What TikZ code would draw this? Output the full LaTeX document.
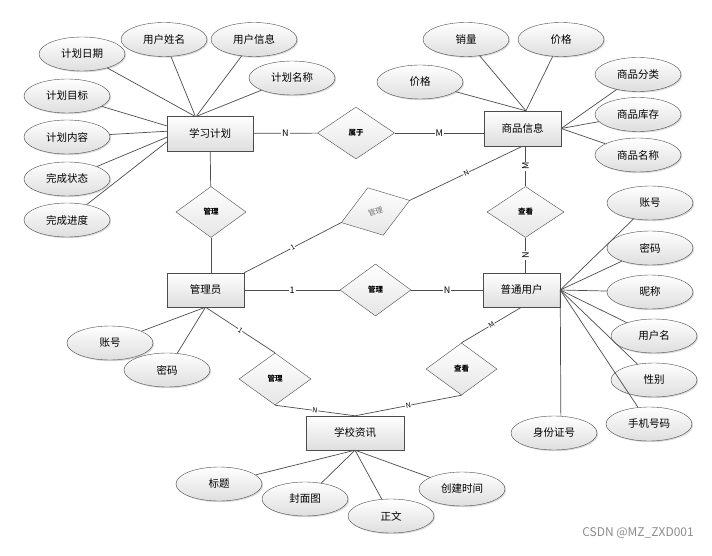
\documentclass[tikz,border=0pt]{standalone}
\usepackage{fontspec}
\setmainfont{Noto Sans CJK SC}
\usetikzlibrary{shapes.geometric,shadows}

\begin{document}
\begin{tikzpicture}[x=1pt,y=-1pt,
  every node/.style={font=\fontsize{10.5}{12}\selectfont},
  ent/.style={draw=black!70, rectangle, top color=white, bottom color=black!13, minimum width=77pt, minimum height=34pt, drop shadow={shadow xshift=1.2pt, shadow yshift=-1.2pt, opacity=.3}},
  attr/.style={draw=black!70, ellipse, top color=white, bottom color=black!13, minimum width=86pt, minimum height=34pt, drop shadow={shadow xshift=1.2pt, shadow yshift=-1.2pt, opacity=.3}},
  rel/.style={draw=black!70, diamond, top color=white, bottom color=black!10, minimum width=72pt, minimum height=52pt, inner sep=0pt, font=\fontsize{7.5}{8}\selectfont\bfseries},
  link/.style={draw=black!70, line width=0.7pt},
  lab/.style={fill=white, inner sep=1pt, font=\fontsize{9}{10}\selectfont},
  slab/.style={fill=white, inner sep=0.5pt, sloped, font=\fontsize{7}{8}\selectfont}]
\useasboundingbox (0,0) rectangle (712,556);

\node[ent, minimum width=86pt, minimum height=35pt] (E1) at (210,133.5) {学习计划};
\node[ent, minimum height=35pt] (E2) at (522.5,128.5) {商品信息};
\node[ent] (E3) at (205.5,290) {管理员};
\node[ent] (E4) at (521.5,290) {普通用户};
\node[ent, minimum width=98pt] (E5) at (355,433) {学校资讯};

\node[rel, minimum width=77pt] (R1) at (356,133) {属于};
\node[rel, minimum width=70pt, minimum height=51pt] (R2) at (211,212) {管理};
\node[rel, minimum height=50pt, rotate=18, text=black!55, font=\fontsize{7.5}{8}\selectfont] (R3) at (375.5,211.5) {管理};
\node[rel, minimum width=77pt, minimum height=51pt] (R4) at (525.5,212) {查看};
\node[rel, minimum width=71pt] (R5) at (375.5,290) {管理};
\node[rel] (R6) at (275,379) {管理};
\node[rel, minimum width=71pt] (R7) at (461.5,369) {查看};

\node[attr] (E1A1) at (82,54) {计划日期};
\node[attr] (E1A2) at (164,39.5) {用户姓名};
\node[attr] (E1A3) at (254,39.5) {用户信息};
\node[attr] (E1A4) at (292,78) {计划名称};
\node[attr] (E1A5) at (67,96) {计划目标};
\node[attr] (E1A6) at (67,137) {计划内容};
\node[attr] (E1A7) at (67,179) {完成状态};
\node[attr] (E1A8) at (67,220) {完成进度};

\node[attr] (E2A1) at (466,39.5) {销量};
\node[attr] (E2A2) at (561,39.5) {价格};
\node[attr] (E2A3) at (420,82) {价格};
\node[attr] (E2A4) at (638,74.5) {商品分类};
\node[attr] (E2A5) at (638,114.5) {商品库存};
\node[attr] (E2A6) at (638,155) {商品名称};

\node[attr] (E3A1) at (110,343) {账号};
\node[attr] (E3A2) at (167,370) {密码};

\node[attr] (E4A1) at (650,203) {账号};
\node[attr] (E4A2) at (650,248) {密码};
\node[attr] (E4A3) at (650,292) {昵称};
\node[attr] (E4A4) at (654,336) {用户名};
\node[attr] (E4A5) at (654,380) {性别};
\node[attr] (E4A6) at (649,424) {手机号码};
\node[attr] (E4A7) at (554,433) {身份证号};

\node[attr] (E5A1) at (219,484) {标题};
\node[attr] (E5A2) at (305,499) {封面图};
\node[attr] (E5A3) at (391,516) {正文};
\node[attr] (E5A4) at (462,489) {创建时间};

\draw[link] (E1A1) -- (E1.132);
\draw[link] (E1A2) -- (E1.130);
\draw[link] (E1A3) -- (E1.127);
\draw[link] (E1A4) -- (E1.125);
\draw[link] (E1A5) -- (E1.170);
\draw[link] (E1A6) -- (E1.177);
\draw[link] (E1A7) -- (E1.185);
\draw[link] (E1A8) -- (E1.191);

\draw[link] (E2A1) -- (E2.79);
\draw[link] (E2A2) -- (E2.79);
\draw[link] (E2A3) -- (E2.79);
\draw[link] (E2A4) -- (E2.east);
\draw[link] (E2A5) -- (E2.east);
\draw[link] (E2A6) -- (E2.east);

\draw[link] (E3A1) -- (E3.south);
\draw[link] (E3A2) -- (E3.south);

\draw[link] (E4A1) -- (E4.east);
\draw[link] (E4A2) -- (E4.east);
\draw[link] (E4A3) -- (E4.east);
\draw[link] (E4A4) -- (E4.east);
\draw[link] (E4A5) -- (E4.east);
\draw[link] (E4A6) -- (E4.east);
\draw[link] (E4A7.68) -- (E4.east);

\draw[link] (E5A1) -- (E5.south);
\draw[link] (E5A2) -- (E5.south);
\draw[link] (E5A3) -- (E5.south);
\draw[link] (E5A4) -- (E5.south);

\draw[link] (E1) -- node[lab] {N} (R1);
\draw[link] (R1.east) -- node[lab] {M} (R1.east -| E2.west);
\draw[link] (E1) -- (R2);
\draw[link] (R2.south) -- (R2.south |- E3.north);
\draw[link] (E3.north east) -- node[slab] {1} (R3.west);
\draw[link] (R3.east) -- node[slab] {N} (E2.south);
\draw[link] (R4.north |- E2.south) -- node[lab, rotate=90] {M} (R4.north);
\draw[link] (R4.south) -- node[lab, rotate=90] {N} (R4.south |- E4.north);
\draw[link] (E3) -- node[lab] {1} (R5);
\draw[link] (R5) -- node[lab] {N} (E4);
\draw[link] (E3.south) -- node[slab] {1} (R6.north);
\draw[link] (R6.south) -- node[slab] {N} (E5.north);
\draw[link] (E4.south) -- node[slab] {M} (R7.north);
\draw[link] (R7.south) -- node[slab] {N} (E5.north);

\node[text=black!45, font=\fontsize{12}{13}\selectfont] (WM) at (638,533) {CSDN @MZ\_ZXD001};
\end{tikzpicture}
\end{document}
